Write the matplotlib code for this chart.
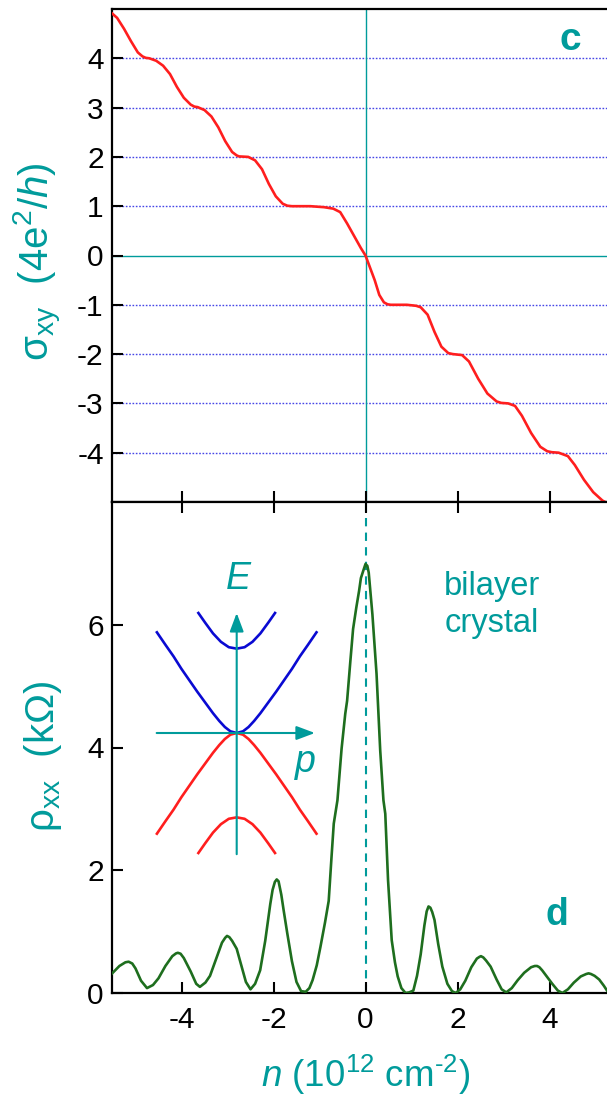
import numpy as np
import matplotlib
matplotlib.use("Agg")
import matplotlib.pyplot as plt

plt.rcParams['font.family'] = ['Liberation Sans', 'DejaVu Sans']
plt.rcParams['mathtext.fontset'] = 'custom'
plt.rcParams['mathtext.rm'] = 'Liberation Sans'
plt.rcParams['mathtext.it'] = 'Liberation Sans:italic'
plt.rcParams['mathtext.bf'] = 'Liberation Sans:bold'
plt.rcParams['axes.unicode_minus'] = False

TEAL = '#009b9b'
RED = '#ff1e1e'
GREEN = '#1e6e1e'
BLUE = '#0a0ad2'
GRID = '#4646e6'

# panel c: Hall conductivity (n in 1e12 cm^-2, sigma in 4e^2/h)
n_sxy = [-5.52, -5.4, -5.25, -5.1, -4.95, -4.85, -4.78, -4.7, -4.55, -4.4, -4.25, -4.1, -3.95,
         -3.8, -3.72, -3.65, -3.5, -3.35, -3.2, -3.05, -2.9, -2.8, -2.75, -2.55, -2.4, -2.25, -2.1,
         -1.95, -1.8, -1.7, -1.6, -1.2, -0.9, -0.7, -0.55, -0.4, -0.25, -0.1, 0.0,
         0.1, 0.2, 0.3, 0.4, 0.48, 0.55, 0.9, 1.1, 1.2, 1.35, 1.5, 1.65, 1.8, 1.9, 2.1, 2.25,
         2.45, 2.65, 2.85, 2.95, 3.1, 3.25, 3.4, 3.6, 3.8, 3.95, 4.05, 4.2, 4.4, 4.55, 4.75,
         4.95, 5.15, 5.25]
sxy = [4.92, 4.82, 4.6, 4.35, 4.12, 4.04, 4.01, 4.0, 3.95, 3.85, 3.68, 3.42, 3.2,
       3.06, 3.02, 3.01, 2.95, 2.82, 2.6, 2.32, 2.1, 2.03, 2.01, 2.0, 1.93, 1.75, 1.45,
       1.2, 1.05, 1.01, 1.0, 1.0, 0.98, 0.95, 0.88, 0.65, 0.4, 0.15, 0.0,
       -0.25, -0.5, -0.8, -0.95, -0.99, -1.0, -1.0, -1.02, -1.05, -1.2, -1.55, -1.85, -1.98, -2.0, -2.02, -2.15,
       -2.5, -2.8, -2.96, -2.99, -3.0, -3.05, -3.25, -3.6, -3.88, -3.97, -3.99, -4.0, -4.07, -4.25, -4.55,
       -4.8, -4.97, -5.02]

# panel d: longitudinal resistivity (kOhm)
n_rxx = [-5.52, -5.35, -5.22, -5.15, -5.07, -5.0, -4.88, -4.75, -4.62, -4.5, -4.35, -4.2, -4.12,
         -4.08, -4.02, -3.95, -3.8, -3.68, -3.6, -3.48, -3.38, -3.25, -3.12, -3.05, -3.01, -2.96,
         -2.9, -2.8, -2.7, -2.6, -2.5, -2.4, -2.29, -2.18, -2.07, -2.02, -1.97, -1.93, -1.89,
         -1.83, -1.78, -1.7, -1.6, -1.5, -1.4, -1.3, -1.22, -1.15, -1.06, -0.98, -0.88, -0.8,
         -0.74, -0.69, -0.61, -0.52, -0.44, -0.4, -0.33, -0.27, -0.2, -0.14, -0.1, -0.04, 0.0,
         0.04, 0.07, 0.15, 0.24, 0.32, 0.39, 0.43, 0.49, 0.57, 0.64, 0.7, 0.78, 0.87, 0.95,
         1.04, 1.12, 1.2, 1.28, 1.33, 1.37, 1.41, 1.45, 1.5, 1.58, 1.67, 1.78, 1.88, 1.96,
         2.06, 2.17, 2.3, 2.42, 2.48, 2.51, 2.56, 2.62, 2.72, 2.85, 2.96, 3.06, 3.18, 3.31,
         3.45, 3.6, 3.68, 3.73, 3.78, 3.84, 3.94, 4.06, 4.18, 4.28, 4.4, 4.53, 4.68, 4.8, 4.85,
         4.9, 4.98, 5.08, 5.18, 5.25]
rxx = [0.31, 0.44, 0.5, 0.51, 0.48, 0.4, 0.2, 0.08, 0.13, 0.24, 0.44, 0.6, 0.645,
       0.655, 0.64, 0.57, 0.35, 0.15, 0.1, 0.17, 0.28, 0.55, 0.82, 0.9, 0.93, 0.91,
       0.85, 0.72, 0.45, 0.18, 0.06, 0.15, 0.37, 0.85, 1.45, 1.68, 1.81, 1.85, 1.82,
       1.6, 1.35, 0.97, 0.52, 0.18, 0.03, 0.02, 0.08, 0.21, 0.45, 0.75, 1.15, 1.5,
       2.2, 2.76, 3.14, 3.98, 4.55, 4.76, 5.4, 5.93, 6.28, 6.55, 6.76, 6.9, 6.99,
       6.96, 6.85, 6.17, 5.2, 3.95, 3.14, 2.92, 1.84, 0.86, 0.5, 0.27, 0.08, 0.0, 0.01,
       0.04, 0.28, 0.63, 1.1, 1.33, 1.41, 1.39, 1.32, 1.19, 0.8, 0.43, 0.15, 0.03, 0.0,
       0.06, 0.2, 0.42, 0.56, 0.59, 0.6, 0.58, 0.53, 0.43, 0.22, 0.06, 0.01, 0.08, 0.21,
       0.33, 0.42, 0.44, 0.44, 0.42, 0.37, 0.27, 0.15, 0.04, 0.0, 0.06, 0.17, 0.27, 0.31, 0.32,
       0.31, 0.28, 0.22, 0.12, 0.04]

# inset: bilayer band sketch, left half (p < 0)
p_outer = [-1.01, -0.9, -0.8, -0.7, -0.6, -0.5, -0.4, -0.3, -0.22, -0.15, -0.08, 0.0]
e_outer = [0.839, 0.733, 0.639, 0.535, 0.44, 0.345, 0.255, 0.165, 0.10, 0.05, 0.014, 0.0]
p_inner = [-0.485, -0.4, -0.3, -0.2, -0.1, 0.0]
e_inner = [1.0, 0.92, 0.83, 0.76, 0.715, 0.703]

W, H = 607, 1098
fig = plt.figure(figsize=(W / 100, H / 100), dpi=100)


def fx(x):
    return x / W


def fy(y):
    return 1 - y / H


x0, x1 = 112, 607
ax1 = fig.add_axes([fx(x0), fy(502), fx(x1) - fx(x0), fy(9) - fy(502)])
ax2 = fig.add_axes([fx(x0), fy(993), fx(x1) - fx(x0), fy(502) - fy(993)])

xlim = ((x0 - 365.5) / 46, (x1 - 365.5) / 46)

for ax in (ax1, ax2):
    ax.set_xlim(*xlim)
    ax.spines['right'].set_visible(False)
    for s in ('left', 'bottom', 'top'):
        ax.spines[s].set_linewidth(1.6)
    ax.tick_params(direction='in', length=8, width=1.5, labelsize=21.5, pad=6)
    ax.set_xticks([-4, -2, 0, 2, 4])

# panel c
ax1.set_ylim(-5, 5)
ax1.set_yticks([-4, -3, -2, -1, 0, 1, 2, 3, 4])
ax1.tick_params(axis='x', labelbottom=False)
for v in [-4, -3, -2, -1, 1, 2, 3, 4]:
    ax1.axhline(v, color=GRID, lw=1.0, ls=(0, (1.2, 1.2)), zorder=1)
ax1.axhline(0, color=TEAL, lw=1.0, zorder=1)
ax1.axvline(0, color=TEAL, lw=1.0, zorder=1)
ax1.plot(n_sxy, sxy, color=RED, lw=1.9, zorder=3)

# panel d
ax2.set_ylim(0, 8)
ax2.set_yticks([0, 2, 4, 6])
ax2.tick_params(axis='x', pad=9)
ax2.tick_params(axis='x', top=True, length=8)
ax2.axvline(0, color=TEAL, lw=1.5, ls=(0, (4, 3)), zorder=1)
ax2.plot(n_rxx, rxx, color=GREEN, lw=1.9, zorder=3)

# inset band diagram
cx, cy, pu, eu = 236.7, 733, 79, 120
bx0, bx1, by0, by1 = 140, 340, 590, 870
axi = fig.add_axes([fx(bx0), fy(by1), fx(bx1) - fx(bx0), fy(by0) - fy(by1)])
axi.set_xlim((bx0 - cx) / pu, (bx1 - cx) / pu)
axi.set_ylim((cy - by1) / eu, (cy - by0) / eu)
axi.axis('off')
axi.patch.set_alpha(0)

po = np.concatenate([p_outer, -np.array(p_outer[::-1])])
eo = np.concatenate([e_outer, e_outer[::-1]])
pi_ = np.concatenate([p_inner, -np.array(p_inner[::-1])])
ei = np.concatenate([e_inner, e_inner[::-1]])
arrow = dict(arrowstyle='-|>,head_length=0.8,head_width=0.3', color=TEAL, lw=1.5,
             mutation_scale=14, shrinkA=0, shrinkB=0)
axi.annotate('', xy=(0.99, 0), xytext=(-1.013, 0), arrowprops=arrow)
axi.annotate('', xy=(0, 1.0), xytext=(0, -1.01), arrowprops=arrow)
axi.plot(po, eo, color=BLUE, lw=1.9)
axi.plot(pi_, ei, color=BLUE, lw=1.9)
axi.plot(po, -eo, color=RED, lw=1.9)
axi.plot(pi_, -ei, color=RED, lw=1.9)

fig.text(fx(239), fy(579), '$E$', color=TEAL, fontsize=27, ha='center', va='center')
fig.text(fx(305), fy(764), '$p$', color=TEAL, fontsize=27, ha='center', va='center')
fig.text(fx(492), fy(605), 'bilayer\ncrystal', color=TEAL, fontsize=23.5, ha='center',
         va='center', linespacing=1.25, multialignment='center')
fig.text(fx(570), fy(40), 'c', color=TEAL, fontsize=28, fontweight='bold', ha='center', va='center')
fig.text(fx(557), fy(915), 'd', color=TEAL, fontsize=27, fontweight='bold', ha='center', va='center')

# axis labels
fig.text(fx(38), fy(262), r'$\mathrm{\sigma}_{\mathrm{xy}}$  (4$\mathrm{e}^{2}$/$h$)', color=TEAL,
         fontsize=29, rotation=90, ha='center', va='center')
fig.text(fx(43), fy(756), r'$\mathrm{\rho}_{\mathrm{xx}}$  (k$\mathrm{\Omega}$)', color=TEAL,
         fontsize=29, rotation=90, ha='center', va='center')
fig.text(fx(366), fy(1087), '$n$ (10$^{12}$ cm$^{\u20102}$)', color=TEAL, fontsize=26.5,
         ha='center', va='baseline')

fig.savefig('out.png', dpi=100)
